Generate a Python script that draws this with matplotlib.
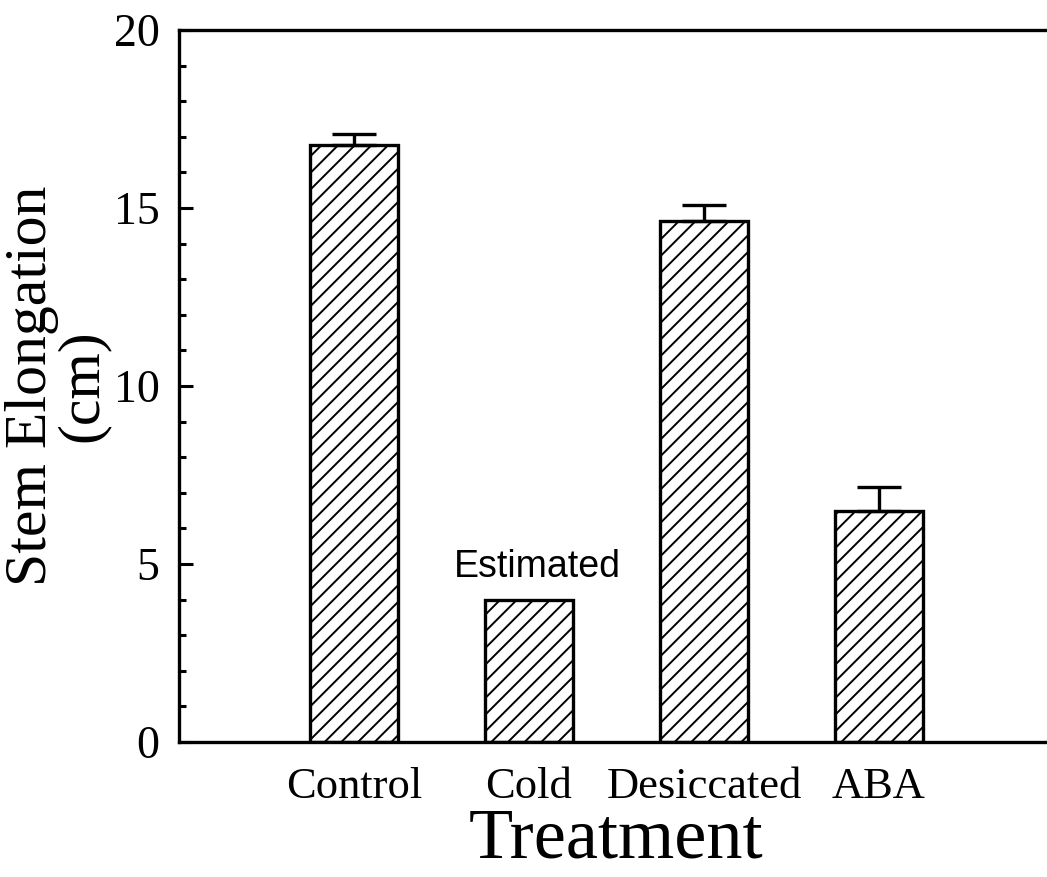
import matplotlib.pyplot as plt
from matplotlib.ticker import MultipleLocator

treatments = ['Control', 'Cold', 'Desiccated', 'ABA']
elongation = [16.77, 4.0, 14.63, 6.50]
elongation_err = [0.31, 0.0, 0.45, 0.65]
has_err = [True, False, True, True]
annotation = 'Estimated'

plt.rcParams['font.family'] = ['Liberation Serif', 'DejaVu Serif']
plt.rcParams['hatch.linewidth'] = 1.4

fig = plt.figure(figsize=(10.47, 8.77), dpi=100)
ax = fig.add_axes([179 / 1047, 135 / 877, 875 / 1047, 712 / 877])

pos = list(range(1, len(treatments) + 1))
ax.bar(pos, elongation, width=0.5, color='white', edgecolor='black',
       linewidth=2.4, hatch='//', zorder=2)

# upper error bars only, Cold has none
for p, v, e, h in zip(pos, elongation, elongation_err, has_err):
    if h:
        ax.errorbar(p, v, yerr=[[0], [e]], fmt='none', ecolor='black',
                    elinewidth=2.4, capsize=16, capthick=2.4, zorder=3)

ax.text(pos[1] + 0.05, elongation[1] + 0.63, annotation, family='Liberation Sans',
        fontsize=27, ha='center', va='baseline')

ax.set_xlim(0, 5)
ax.set_ylim(0, 20)
ax.set_xticks(pos)
ax.set_xticklabels(treatments, fontsize=32)
ax.yaxis.set_major_locator(MultipleLocator(5))
ax.yaxis.set_minor_locator(MultipleLocator(1))
ax.tick_params(axis='y', which='major', direction='in', length=10, width=2.2,
               labelsize=33, pad=14)
ax.tick_params(axis='y', which='minor', direction='in', length=5, width=2.2)
ax.tick_params(axis='x', length=0, pad=18)

for s in ['left', 'bottom', 'top']:
    ax.spines[s].set_linewidth(2.4)
ax.spines['right'].set_visible(False)

ax.set_ylabel('Stem Elongation\n(cm)', fontsize=43, linespacing=0.92, va='center')
ax.yaxis.set_label_coords(-0.139, 0.5)
ax.set_xlabel('Treatment', fontsize=52, va='baseline')
ax.xaxis.set_label_coords(0.5, (742 - 858) / 712)

fig.savefig('out.png', dpi=100)
